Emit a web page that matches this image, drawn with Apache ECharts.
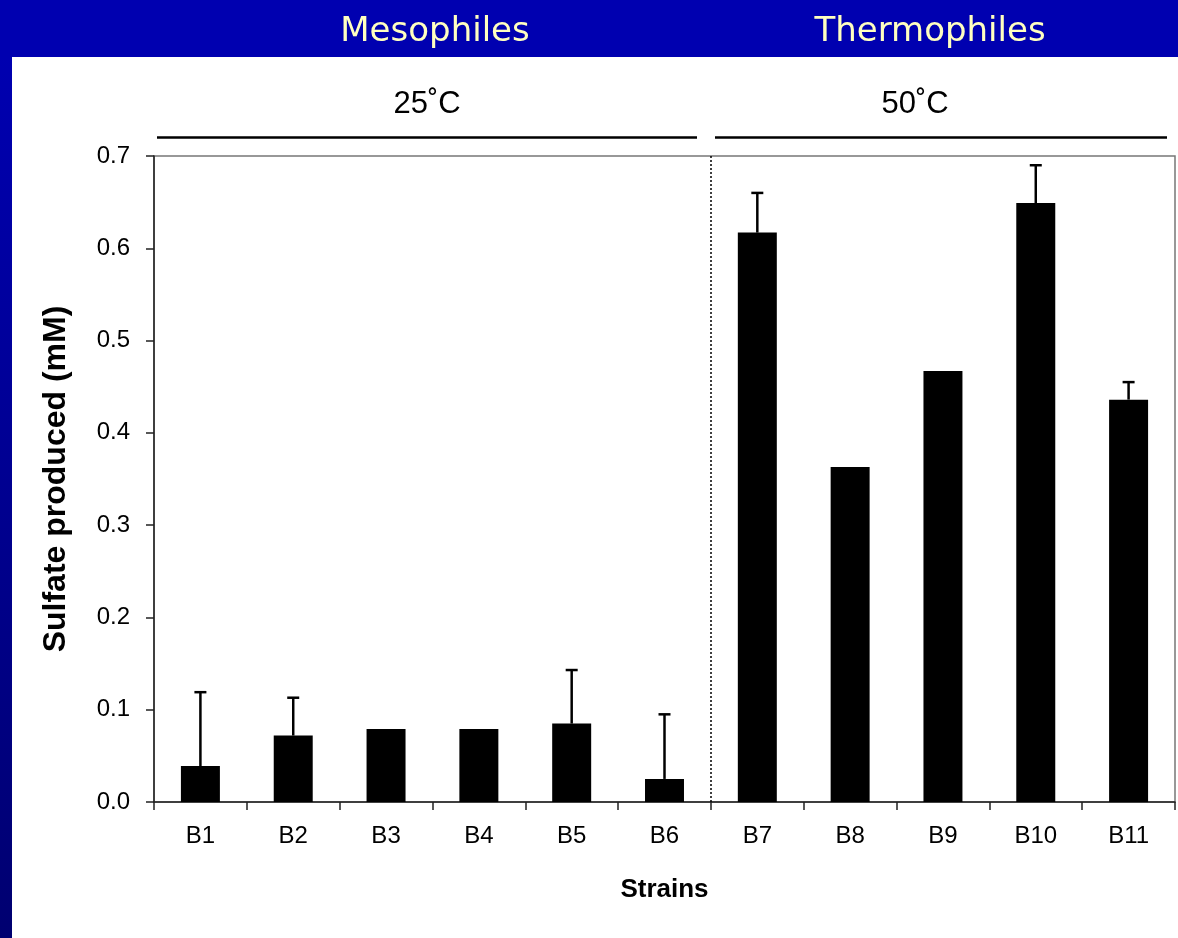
<!DOCTYPE html>
<html>
<head>
<meta charset="utf-8">
<script src="https://cdn.jsdelivr.net/npm/echarts@6/dist/echarts.min.js"></script>
<style>
  html, body { margin: 0; padding: 0; background: #fff; }
  #chart { width: 1178px; height: 938px; }
</style>
</head>
<body>
<div id="chart"></div>
<script>
// strains and measured sulfate (mM), with upper error bar ends
var strains = ['B1', 'B2', 'B3', 'B4', 'B5', 'B6', 'B7', 'B8', 'B9', 'B10', 'B11'];
var sulfate = [0.039, 0.072, 0.079, 0.079, 0.085, 0.025, 0.617, 0.363, 0.467, 0.649, 0.436];
var errTop  = [0.119, 0.113, null, null, 0.143, 0.095, 0.660, null, null, 0.690, 0.455];
var groupTitles = ['Mesophiles', 'Thermophiles'];
var tempLabels = ['25˚C', '50˚C'];
var dividerAt = [6]; // boundary between B6 and B7

var errData = [];
for (var i = 0; i < strains.length; i++) {
	if (errTop[i] != null) errData.push([i, sulfate[i], errTop[i]]);
}

var myChart = echarts.init(document.getElementById('chart'));
var font = 'Liberation Sans, Arial, sans-serif';

var option = {
	animation: false,
	backgroundColor: '#fff',
	graphic: [
		// blue header band and left strip
		{ type: 'rect', left: 0, top: 0, shape: { width: 1178, height: 57 }, style: { fill: '#0000b0' }, z: -10 },
		{ type: 'rect', left: 0, top: 57, shape: { width: 12, height: 881 },
		  style: { fill: new echarts.graphic.LinearGradient(0, 0, 0, 1, [
			  { offset: 0, color: '#0000b0' }, { offset: 1, color: '#000070' }]) }, z: -10 },
		{ type: 'text', x: 435, y: 32, style: { text: groupTitles[0], fill: '#ffffc0', font: '34px "DejaVu Sans"', align: 'center', verticalAlign: 'middle' } },
		{ type: 'text', x: 930, y: 32, style: { text: groupTitles[1], fill: '#ffffc0', font: '34px "DejaVu Sans"', align: 'center', verticalAlign: 'middle' } },
		{ type: 'text', x: 427, y: 104, style: { text: tempLabels[0], fill: '#000', font: '31px ' + font, align: 'center', verticalAlign: 'middle' } },
		{ type: 'text', x: 915, y: 104, style: { text: tempLabels[1], fill: '#000', font: '31px ' + font, align: 'center', verticalAlign: 'middle' } },
		{ type: 'line', shape: { x1: 157, y1: 137.5, x2: 697, y2: 137.5 }, style: { stroke: '#000', lineWidth: 2.5 } },
		{ type: 'line', shape: { x1: 715, y1: 137.5, x2: 1167, y2: 137.5 }, style: { stroke: '#000', lineWidth: 2.5 } }
	],
	grid: {
		left: 154, right: 3, top: 156, bottom: 136,
		show: true, borderColor: '#777', borderWidth: 1.5, backgroundColor: 'transparent'
	},
	xAxis: [{
		type: 'category',
		data: strains,
		name: 'Strains',
		nameLocation: 'middle',
		nameGap: 75,
		nameTextStyle: { fontFamily: font, fontSize: 26, fontWeight: 'bold', color: '#000' },
		axisLine: { lineStyle: { color: '#222', width: 1.5 } },
		axisTick: { show: true, length: 8, alignWithLabel: false, lineStyle: { color: '#222', width: 1.5 } },
		axisLabel: { fontFamily: font, fontSize: 24, color: '#000', margin: 22 }
	}, {
		type: 'value', min: 0, max: strains.length, show: false
	}],
	yAxis: {
		type: 'value',
		min: 0, max: 0.7, interval: 0.1,
		name: 'Sulfate produced (mM)',
		nameLocation: 'middle',
		nameGap: 82,
		nameRotate: 90,
		nameTextStyle: { fontFamily: font, fontSize: 32, fontWeight: 'bold', color: '#000' },
		axisLine: { show: true, lineStyle: { color: '#222', width: 1.5 } },
		axisTick: { show: true, length: 8, lineStyle: { color: '#222', width: 1.5 } },
		axisLabel: { fontFamily: font, fontSize: 24, color: '#000', margin: 24,
			formatter: function (v) { return v.toFixed(1); } },
		splitLine: { show: false }
	},
	series: [
		{
			type: 'bar',
			data: sulfate,
			barWidth: '42%',
			itemStyle: { color: '#000' },
			z: 3
		},
		{
			type: 'custom',
			data: errData,
			z: 4,
			renderItem: function (params, api) {
				var base = api.coord([api.value(0), api.value(1)]);
				var top = api.coord([api.value(0), api.value(2)]);
				var half = 6;
				return {
					type: 'group',
					children: [
						{ type: 'line', shape: { x1: base[0], y1: base[1], x2: top[0], y2: top[1] }, style: { stroke: '#000', lineWidth: 2.5 } },
						{ type: 'line', shape: { x1: top[0] - half, y1: top[1], x2: top[0] + half, y2: top[1] }, style: { stroke: '#000', lineWidth: 2.5 } }
					]
				};
			}
		},
		{
			type: 'line',
			xAxisIndex: 1,
			data: [],
			markLine: {
				silent: true,
				symbol: 'none',
				label: { show: false },
				lineStyle: { color: '#000', type: [2, 2], width: 1.5 },
				data: dividerAt.map(function (d) { return { xAxis: d }; })
			}
		}
	]
};
myChart.setOption(option);
</script>
</body>
</html>
